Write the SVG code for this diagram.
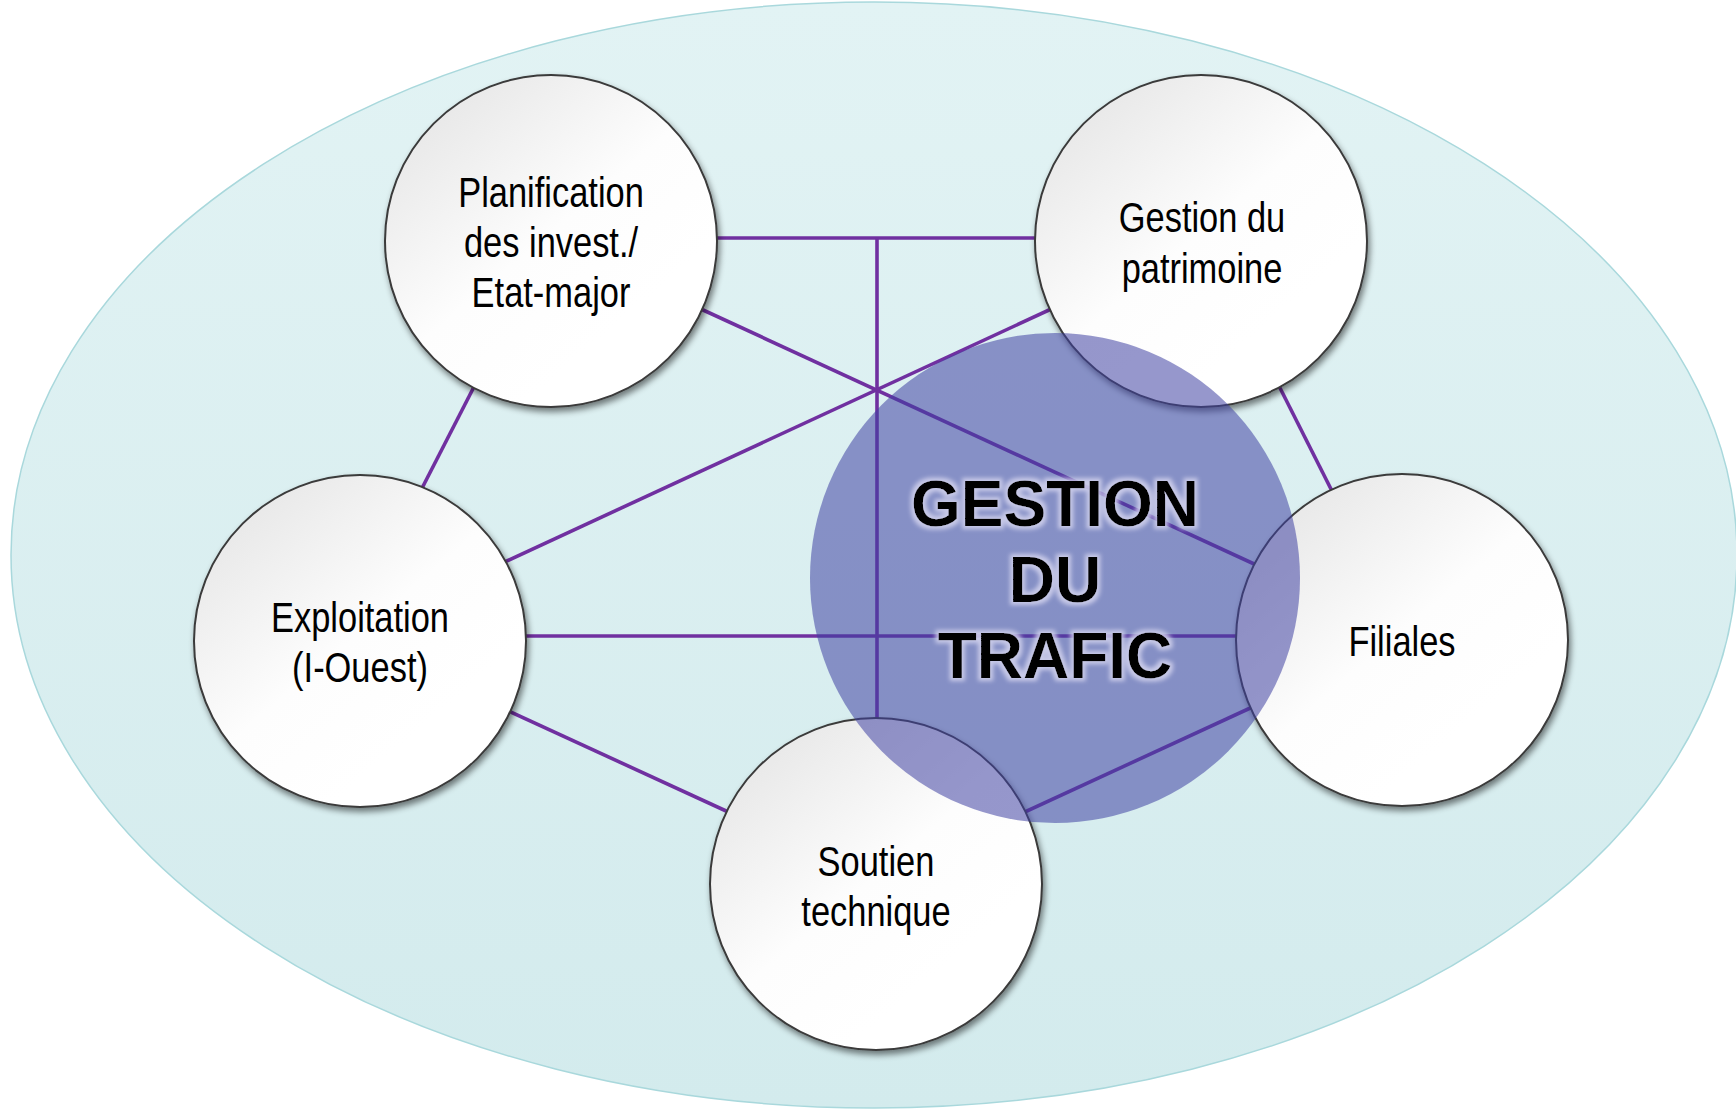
<svg xmlns="http://www.w3.org/2000/svg" width="1736" height="1110" viewBox="0 0 1736 1110">
<defs>
<linearGradient id="bg" x1="0" y1="0" x2="0" y2="1">
<stop offset="0" stop-color="#E2F3F4"/>
<stop offset="1" stop-color="#D3EBED"/>
</linearGradient>
<linearGradient id="wg" x1="0.15" y1="0.1" x2="0.7" y2="0.75">
<stop offset="0" stop-color="#E8E8E8"/>
<stop offset="0.6" stop-color="#FDFDFD"/>
<stop offset="1" stop-color="#FFFFFF"/>
</linearGradient>
<filter id="sh" x="-10%" y="-10%" width="125%" height="125%">
<feGaussianBlur in="SourceAlpha" stdDeviation="3"/>
<feOffset dx="2" dy="4" result="b"/>
<feComponentTransfer><feFuncA type="linear" slope="0.5"/></feComponentTransfer>
<feMerge><feMergeNode/><feMergeNode in="SourceGraphic"/></feMerge>
</filter>
<filter id="glow" x="-10%" y="-20%" width="120%" height="140%">
<feMorphology in="SourceAlpha" operator="dilate" radius="3" result="d"/>
<feGaussianBlur in="d" stdDeviation="2" result="db"/>
<feFlood flood-color="#D4D4EE" flood-opacity="0.85"/>
<feComposite in2="db" operator="in" result="g"/>
<feMerge><feMergeNode in="g"/><feMergeNode in="SourceGraphic"/></feMerge>
</filter>
</defs>
<style>
.ln{stroke:#7030A0;stroke-width:3.6;fill:none}
.nd{fill:url(#wg);stroke:#3A3A3A;stroke-width:2}
.lb{font-family:"Liberation Sans",Arial,sans-serif;font-size:42px;fill:#000;text-anchor:middle}
.tt{font-family:"Liberation Sans",Arial,sans-serif;font-weight:bold;font-size:64px;fill:#000;text-anchor:middle}
</style>
<ellipse id="background" cx="874" cy="555" rx="863" ry="553" fill="url(#bg)" stroke="#A9D8DC" stroke-width="1.5"/>
<g id="connectors">
<line class="ln" x1="640" y1="238" x2="1045" y2="238"/>
<line class="ln" x1="877" y1="238" x2="877" y2="730"/>
<line class="ln" x1="690" y1="304" x2="1265" y2="569"/>
<line class="ln" x1="1062" y1="304" x2="496" y2="566"/>
<line class="ln" x1="515" y1="636" x2="1245" y2="636"/>
<line class="ln" x1="478" y1="379" x2="418" y2="496"/>
<line class="ln" x1="1276" y1="380" x2="1336" y2="499"/>
<line class="ln" x1="502" y1="708" x2="737" y2="816"/>
<line class="ln" x1="1259" y1="704" x2="1016" y2="816"/>
</g>
<g id="node-planification">
<circle class="nd" cx="551" cy="241" r="166" filter="url(#sh)"/>
<text class="lb" transform="translate(551 0) scale(0.82 1)"><tspan x="0" y="207">Planification</tspan><tspan x="0" y="257">des invest./</tspan><tspan x="0" y="307">Etat-major</tspan></text>
</g>
<g id="node-patrimoine">
<circle class="nd" cx="1201" cy="241" r="166" filter="url(#sh)"/>
<text class="lb" transform="translate(1202 0) scale(0.82 1)"><tspan x="0" y="232">Gestion du</tspan><tspan x="0" y="283">patrimoine</tspan></text>
</g>
<g id="node-exploitation">
<circle class="nd" cx="360" cy="641" r="166" filter="url(#sh)"/>
<text class="lb" transform="translate(360 0) scale(0.82 1)"><tspan x="0" y="632">Exploitation</tspan><tspan x="0" y="682">(I-Ouest)</tspan></text>
</g>
<g id="node-filiales">
<circle class="nd" cx="1402" cy="640" r="166" filter="url(#sh)"/>
<text class="lb" transform="translate(1402 0) scale(0.82 1)" x="0" y="656">Filiales</text>
</g>
<g id="node-soutien">
<circle class="nd" cx="876" cy="884" r="166" filter="url(#sh)"/>
<text class="lb" transform="translate(876 0) scale(0.82 1)"><tspan x="0" y="876">Soutien</tspan><tspan x="0" y="926">technique</tspan></text>
</g>
<g id="node-gestion-trafic">
<circle cx="1055" cy="578" r="245" fill="#4042A2" fill-opacity="0.55"/>
<text class="tt" filter="url(#glow)"><tspan x="1055" y="526">GESTION</tspan><tspan x="1055" y="602">DU</tspan><tspan x="1055" y="678">TRAFIC</tspan></text>
</g>
</svg>
